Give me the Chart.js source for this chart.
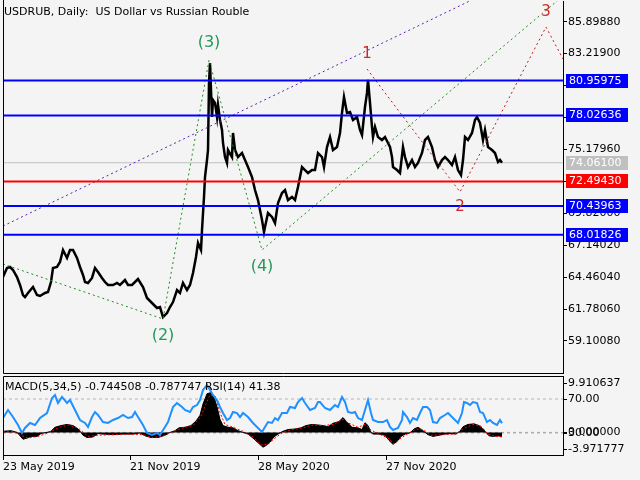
<!DOCTYPE html>
<html>
<head>
<meta charset="utf-8">
<script src="https://cdn.jsdelivr.net/npm/chart.js@4.4.1/dist/chart.umd.min.js"></script>
<style>
  html, body { margin: 0; padding: 0; background: #f4f4f4; width: 640px; height: 480px; overflow: hidden; }
  canvas { position: absolute; left: 0; }
  #main { top: 0; }
  #sub { top: 374px; }
  .txt { position: absolute; font: 11px "DejaVu Sans", sans-serif; color: #000; white-space: pre; }
</style>
</head>
<body>
<canvas id="main" width="640" height="376"></canvas>
<canvas id="sub" width="640" height="106"></canvas>
<div class="txt" style="left:4px;top:5px">USDRUB, Daily:  US Dollar vs Russian Rouble</div>
<div class="txt" style="left:5px;top:380px">MACD(5,34,5) -0.744508 -0.787747 RSI(14) 41.38</div>
<script>
// bar index (days from 23 May 2019) and daily close
const barIdx = [0, 4, 7, 10, 14, 17, 20, 22, 25, 30, 34, 37, 42, 45, 48, 50, 54, 57, 60, 64, 67, 70, 74, 77, 80, 82, 85, 89, 92, 95,
  99, 102, 105, 110, 114, 117, 122, 125, 129, 135, 140, 144, 149, 154, 157, 160, 164, 167, 170, 174, 177, 180, 184, 187, 190, 193, 195, 198, 199, 201,
  202, 204, 205, 206, 207, 208, 209, 210, 212, 214, 215, 217, 219, 220, 222, 224, 225, 229, 230, 232, 235, 239, 242, 245, 249, 252, 255, 259, 261, 262,
  265, 269, 272, 275, 279, 282, 285, 289, 292, 295, 299, 302, 305, 309, 312, 315, 319, 321, 324, 327, 330, 334, 337, 339, 341, 344, 347, 350, 354, 357,
  359, 362, 364, 365, 367, 369, 370, 372, 375, 379, 382, 385, 387, 389, 390, 394, 397, 400, 402, 405, 409, 412, 415, 419, 422, 425, 429, 432, 435, 439,
  442, 445, 449, 452, 455, 458, 460, 462, 465, 469, 472, 474, 477, 480, 482, 485, 489, 492, 495, 497, 499];
const closes = [64.47, 65.23, 65.31, 65.06, 64.47, 63.80, 62.96, 62.79, 63.13, 63.63, 62.96, 62.88, 63.13, 63.21, 64.05, 65.23, 65.31, 65.73, 66.74, 66.07, 66.74, 66.74, 66.07, 65.31, 64.64, 64.05, 63.97, 64.39, 65.23, 64.89,
  64.39, 64.05, 63.80, 63.80, 63.97, 63.80, 64.22, 63.80, 63.80, 64.30, 63.63, 62.71, 62.29, 61.87, 61.95, 61.11, 61.45, 61.95, 62.37, 63.38, 63.13, 63.97, 63.38, 63.80, 64.81, 66.15, 67.33, 66.74, 68.42, 71.19,
  72.86, 74.29, 75.13, 80.75, 82.43, 80.17, 77.90, 79.33, 79.08, 77.90, 78.91, 77.65, 76.81, 75.72, 74.54, 74.04, 75.13, 74.54, 76.56, 75.13, 74.54, 74.88, 74.29, 73.70, 72.86, 71.77, 70.93, 69.26, 68.25, 68.67,
  69.84, 69.51, 69.00, 70.68, 71.52, 71.77, 70.93, 71.19, 70.93, 72.03, 73.70, 73.45, 73.20, 73.45, 73.45, 74.88, 74.54, 73.70, 75.38, 76.22, 75.13, 75.38, 76.56, 78.24, 79.58, 78.24, 78.32, 77.65, 77.90, 76.81,
  76.39, 78.74, 79.92, 81.01, 79.08, 77.06, 76.22, 77.06, 76.22, 75.97, 76.22, 75.72, 75.38, 74.54, 73.70, 73.45, 73.20, 75.38, 74.54, 73.70, 74.29, 73.70, 74.04, 74.88, 75.97, 76.22, 75.38, 74.29, 73.70, 74.29,
  74.54, 74.29, 73.87, 74.54, 73.45, 73.03, 74.29, 76.22, 75.97, 76.56, 77.65, 77.90, 77.40, 75.97, 76.81, 75.38, 75.13, 74.88, 74.12, 74.29, 74.06];

const lastPrice = 74.061;
const levelValues = [80.95975, 78.02636, 72.4943, 70.43963, 68.01826];
const levelColors = ['#0000ff', '#0000ff', '#ff0000', '#0000ff', '#0000ff'];
const priceTicks = [85.8988, 83.219, 80.5392, 77.8594, 75.1796, 72.4998, 69.82, 67.1402, 64.4604, 61.7806, 59.1008];

// wave counts
const bigWaveIdx = [0, 160, 206, 259, 560];
const bigWaveVal = [65.56, 60.95, 82.68, 66.74, 88.06];
const bigWaveNames = ['', '(2)', '(3)', '(4)', ''];
const smallWaveIdx = [364, 457, 543, 560];
const smallWaveVal = [81.93, 71.61, 85.45, 82.77];
const smallWaveNames = ['1', '2', '3', ''];
const channelIdx = [0, 560];
const channelVal = [68.75, 91.41];

// sub window
const rsiIdx = [0, 5, 10, 15, 19, 22, 27, 32, 37, 44, 49, 52, 55, 59, 64, 67, 72, 77, 82, 85, 89, 92, 95, 100, 105, 110, 115, 120, 125, 129,
  132, 135, 140, 144, 149, 154, 157, 162, 165, 170, 174, 179, 182, 187, 190, 194, 197, 200, 204, 207, 210, 214, 217, 220, 224, 227, 230, 234, 237, 240,
  245, 250, 255, 259, 262, 265, 269, 272, 275, 279, 284, 287, 292, 295, 299, 302, 307, 312, 315, 317, 322, 327, 332, 335, 339, 342, 345, 349, 352, 355,
  359, 362, 365, 368, 370, 375, 380, 384, 387, 390, 395, 399, 400, 404, 407, 410, 414, 417, 420, 424, 427, 430, 434, 437, 442, 445, 449, 452, 455, 459,
  461, 464, 467, 470, 474, 477, 480, 484, 487, 490, 494, 497, 499];
const rsiValues = [47.6, 57.1, 48.8, 39.4, 30.0, 35.9, 41.8, 39.4, 47.6, 53.5, 71.2, 74.7, 65.3, 72.4, 65.3, 68.8, 57.1, 45.3, 41.8, 37.1, 48.8, 54.7, 51.2, 42.9, 41.8, 45.3, 47.6, 51.2, 47.6, 48.8,
  54.7, 48.8, 39.4, 30.0, 27.6, 30.0, 27.6, 37.1, 42.9, 60.6, 65.3, 60.6, 57.1, 54.7, 60.6, 62.9, 68.8, 80.6, 86.5, 80.6, 74.7, 68.8, 60.6, 53.5, 45.3, 47.6, 54.7, 53.5, 48.8, 53.5,
  48.8, 41.8, 35.9, 31.2, 37.1, 42.9, 41.8, 47.6, 45.3, 53.5, 53.5, 60.6, 59.4, 66.5, 71.2, 65.3, 57.1, 59.4, 66.5, 66.5, 59.4, 57.1, 62.9, 60.6, 72.4, 66.5, 54.7, 53.5, 54.7, 47.6,
  45.3, 57.1, 68.8, 53.5, 45.3, 42.9, 42.9, 45.3, 37.1, 33.5, 35.9, 45.3, 54.7, 48.8, 41.8, 47.6, 45.3, 53.5, 60.6, 60.6, 57.1, 42.9, 41.8, 47.6, 51.2, 53.5, 48.8, 45.3, 41.8, 53.5,
  66.5, 65.3, 62.9, 66.5, 65.3, 54.7, 53.5, 42.9, 45.3, 41.8, 39.4, 45.3, 41.38];

const macdIdx = [0, 8, 14, 17, 20, 24, 28, 34, 38, 44, 48, 52, 58, 64, 70, 75, 78, 80, 84, 90, 95, 100, 110, 120, 130, 137, 142, 148, 155, 162,
  167, 172, 176, 182, 188, 193, 197, 200, 204, 208, 211, 214, 217, 220, 225, 230, 235, 240, 245, 250, 255, 260, 263, 267, 271, 275, 280, 285, 292, 298,
  303, 309, 315, 320, 325, 330, 336, 340, 344, 349, 355, 359, 362, 365, 368, 370, 376, 382, 386, 390, 394, 398, 402, 407, 411, 415, 420, 425, 430, 436,
  442, 448, 453, 457, 460, 465, 471, 476, 480, 483, 486, 490, 495, 499];
const macdValues = [0.2, 0.3, 0.0, -0.6, -1.2, -1.0, -0.7, -0.7, -0.2, 0.0, 0.2, 0.9, 1.2, 1.4, 1.2, 0.6, 0.0, -0.5, -0.9, -0.8, -0.2, -0.3, -0.4, -0.3, -0.3, -0.1, -0.6, -0.9, -0.9, -0.5,
  0.0, 0.3, 0.8, 0.9, 1.2, 2.0, 3.0, 5.0, 6.8, 7.0, 6.2, 4.5, 2.3, 1.2, 0.9, 0.8, 0.3, 0.0, -0.3, -1.0, -1.8, -2.6, -2.3, -1.7, -0.8, -0.3, 0.2, 0.5, 0.6, 0.8,
  1.2, 1.4, 1.3, 1.2, 1.0, 1.6, 1.9, 2.6, 1.8, 0.9, 0.8, 0.5, 1.7, 1.2, 0.0, -0.3, -0.3, -0.5, -1.4, -2.1, -1.6, -0.7, -0.3, -0.1, 0.6, 0.9, 0.3, -0.4, -0.7, -0.5,
  -0.3, -0.2, -0.3, 0.2, 1.0, 1.4, 1.5, 1.2, 0.6, 0.0, -0.6, -0.7, -0.6, -0.744508];
const signalIdx = [0, 10, 18, 25, 35, 45, 55, 65, 75, 85, 95, 110, 125, 140, 150, 160, 170, 180, 190, 198, 203, 207, 212, 217, 222, 230, 240, 250, 258, 265,
  272, 280, 290, 300, 310, 320, 330, 340, 346, 355, 362, 368, 375, 385, 391, 398, 405, 413, 420, 428, 440, 452, 460, 470, 478, 485, 492, 499];
const signalValues = [0.1, 0.1, -0.5, -1.0, -0.7, -0.1, 0.8, 1.3, 0.8, -0.7, -0.5, -0.4, -0.3, -0.4, -0.9, -0.6, 0.1, 0.8, 1.2, 2.8, 5.0, 6.6, 6.4, 3.5, 1.4, 0.9, 0.2, -0.8, -2.2, -2.1,
  -1.0, 0.0, 0.5, 0.8, 1.3, 1.2, 1.4, 2.3, 1.6, 0.9, 1.4, 0.4, -0.2, -1.0, -2.0, -1.0, -0.2, 0.6, 0.5, -0.5, -0.4, -0.3, 0.6, 1.4, 1.1, -0.3, -0.7, -0.787747];
const macdMax = 9.910637, macdMin = -3.971777;
const rsiLevels = [70, 30];

const dateIdx = [0, 127, 255, 383];
const dateLabels = ['23 May 2019', '21 Nov 2019', '28 May 2020', '27 Nov 2020'];

const font = { family: 'DejaVu Sans', size: 11 };
const pts = (xs, ys) => xs.map((x, i) => ({ x: x, y: ys[i] }));
const flat = (v) => [{ x: 0, y: v }, { x: 560, y: v }];

const mainDecor = {
  id: 'mainDecor',
  afterDraw(chart) {
    const ctx = chart.ctx, a = chart.chartArea, ys = chart.scales.y, xs = chart.scales.x;
    ctx.save();
    ctx.strokeStyle = '#000';
    ctx.lineWidth = 1;
    ctx.beginPath();
    ctx.moveTo(a.left + 0.5, 0);
    ctx.lineTo(a.left + 0.5, a.bottom + 0.5);
    ctx.lineTo(a.right, a.bottom + 0.5);
    ctx.stroke();

    // price labels on the right
    ctx.font = '11px "DejaVu Sans"';
    ctx.textBaseline = 'middle';
    ctx.textAlign = 'left';
    const tags = levelValues.map((v, i) => [v, levelColors[i]]).concat([[lastPrice, '#c0c0c0']]);
    tags.forEach(([v, c]) => {
      const y = Math.round(ys.getPixelForValue(v));
      ctx.fillStyle = c;
      ctx.fillRect(a.right + 3, y - 7, 62, 14);
      ctx.fillStyle = '#fff';
      ctx.fillText(v.toFixed(5), a.right + 6, y);
    });

    // wave labels
    ctx.textAlign = 'center';
    const label = (idx, val, names, color, size, gap) => {
      names.forEach((n, i) => {
        if (!n) return;
        const prev = val[i - 1] !== undefined ? val[i - 1] : -Infinity;
        const next = val[i + 1] !== undefined ? val[i + 1] : -Infinity;
        const top = val[i] > prev && val[i] > next;
        const x = xs.getPixelForValue(idx[i]);
        const y = ys.getPixelForValue(val[i]);
        ctx.fillStyle = color;
        ctx.font = size + 'px "DejaVu Sans"';
        ctx.fillText(n, x, top ? y - gap : y + gap);
      });
    };
    label(bigWaveIdx, bigWaveVal, bigWaveNames, '#22995a', 16, 17);
    label(smallWaveIdx, smallWaveVal, smallWaveNames, '#cc2a2a', 15, 15);
    ctx.restore();
  }
};

const subDecor = {
  id: 'subDecor',
  afterDraw(chart) {
    const ctx = chart.ctx, a = chart.chartArea, ym = chart.scales.y, yr = chart.scales.yRsi;
    ctx.save();
    ctx.strokeStyle = '#000';
    ctx.lineWidth = 1;
    ctx.beginPath();
    ctx.moveTo(a.left + 0.5, a.bottom);
    ctx.lineTo(a.left + 0.5, a.top + 0.5);
    ctx.lineTo(a.right, a.top + 0.5);
    ctx.stroke();

    ctx.font = '11px "DejaVu Sans"';
    ctx.fillStyle = '#000';
    ctx.textBaseline = 'middle';
    ctx.textAlign = 'left';
    const marks = [
      [a.top + 7, macdMax.toFixed(6)],
      [yr.getPixelForValue(rsiLevels[0]), rsiLevels[0].toFixed(2)],
      [yr.getPixelForValue(rsiLevels[1]), rsiLevels[1].toFixed(2)],
      [ym.getPixelForValue(0), (0).toFixed(6)],
      [a.bottom - 6, macdMin.toFixed(6)]
    ];
    marks.forEach(([y, t]) => {
      y = Math.round(y);
      ctx.beginPath();
      ctx.moveTo(a.right, y + 0.5);
      ctx.lineTo(a.right + 4, y + 0.5);
      ctx.stroke();
      ctx.fillText(t, a.right + 5, y);
    });
    ctx.restore();
  }
};

new Chart(document.getElementById('main'), {
  type: 'line',
  data: {
    datasets: [
      { data: pts(barIdx, closes), borderColor: '#000', borderWidth: 2.5, order: 5 },
      { data: flat(lastPrice), borderColor: '#c0c0c0', borderWidth: 1, order: 6 },
      ...levelValues.map((v, i) => ({ data: flat(v), borderColor: levelColors[i], borderWidth: 2, order: 1 })),
      { data: pts(channelIdx, channelVal), borderColor: '#5a22b0', borderWidth: 1, borderDash: [2, 3], order: 2 },
      { data: pts(bigWaveIdx, bigWaveVal), borderColor: '#1e8c1e', borderWidth: 1, borderDash: [2, 3], order: 2 },
      { data: pts(smallWaveIdx, smallWaveVal), borderColor: '#b22222', borderWidth: 1, borderDash: [2, 3], order: 2 }
    ]
  },
  options: {
    responsive: false,
    animation: false,
    events: [],
    elements: { point: { radius: 0 }, line: { tension: 0 } },
    layout: { padding: { left: 3, top: 1, bottom: 3, right: 0 } },
    plugins: { legend: { display: false }, tooltip: { enabled: false } },
    scales: {
      x: { type: 'linear', min: 0, max: 560, display: false },
      y: {
        position: 'right',
        min: 56.415,
        max: 87.636,
        afterBuildTicks: (s) => { s.ticks = priceTicks.map(v => ({ value: v })); },
        afterFit: (s) => { s.width = 77; s.paddingTop = 0; s.paddingBottom = 0; },
        ticks: { font: font, color: '#000', padding: 1, callback: (v) => v.toFixed(5) },
        grid: { drawOnChartArea: false, tickLength: 4, color: '#000' },
        border: { color: '#000' }
      }
    }
  },
  plugins: [mainDecor]
});

new Chart(document.getElementById('sub'), {
  type: 'line',
  data: {
    datasets: [
      { data: pts(macdIdx, macdValues), borderColor: '#000', backgroundColor: '#000', borderWidth: 1, fill: 'origin', yAxisID: 'y', order: 4 },
      { data: pts(signalIdx, signalValues), borderColor: '#ff0000', borderWidth: 1, borderDash: [2, 2], yAxisID: 'y', order: 3 },
      { data: pts(rsiIdx, rsiValues), borderColor: '#1e90ff', borderWidth: 2, yAxisID: 'yRsi', order: 1 },
      { data: flat(0), borderColor: '#a8a8a8', borderWidth: 1, borderDash: [3, 3], yAxisID: 'y', order: 5 },
      ...rsiLevels.map(v => ({ data: flat(v), borderColor: '#b4b4b4', borderWidth: 1, borderDash: [3, 3], yAxisID: 'yRsi', order: 5 }))
    ]
  },
  options: {
    responsive: false,
    animation: false,
    events: [],
    elements: { point: { radius: 0 }, line: { tension: 0 } },
    layout: { padding: { left: 3, top: 2, bottom: 0, right: 0 } },
    plugins: { legend: { display: false }, tooltip: { enabled: false } },
    scales: {
      x: {
        type: 'linear',
        min: 0,
        max: 560,
        afterBuildTicks: (s) => { s.ticks = dateIdx.map(v => ({ value: v })); },
        afterFit: (s) => { s.height = 25; s.paddingLeft = 0; s.paddingRight = 0; },
        ticks: { font: font, color: '#000', align: 'start', padding: 1, maxRotation: 0, autoSkip: false,
                 callback: (v, i) => dateLabels[i] },
        grid: { drawOnChartArea: false, tickLength: 5, color: '#000' },
        border: { color: '#000' }
      },
      y: {
        position: 'right',
        min: macdMin,
        max: macdMax,
        afterFit: (s) => { s.width = 77; s.paddingTop = 0; s.paddingBottom = 0; },
        ticks: { display: false },
        grid: { display: false },
        border: { color: '#000' }
      },
      yRsi: { position: 'right', min: 4.1, max: 97.1, display: false }
    }
  },
  plugins: [subDecor]
});
</script>
</body>
</html>
